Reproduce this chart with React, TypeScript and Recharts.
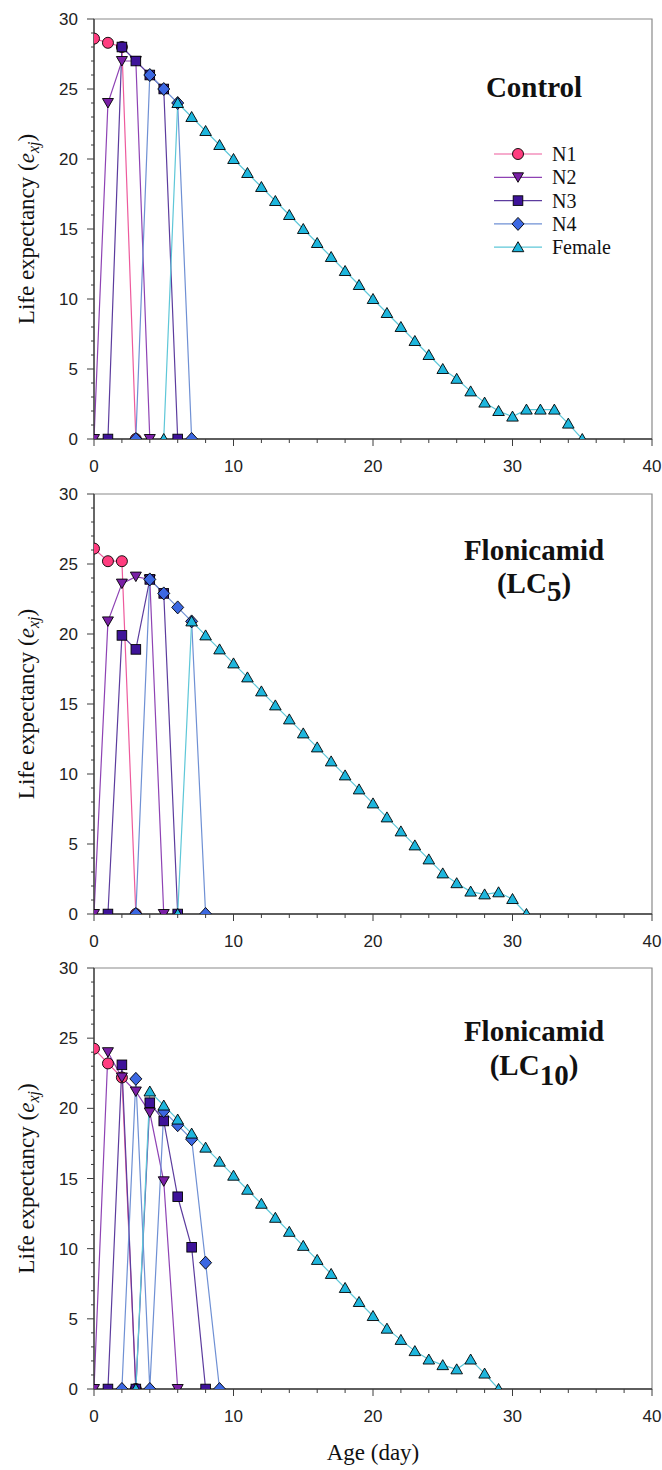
import React from 'react';
import { LineChart, Line, XAxis, YAxis, ReferenceArea, Legend, Label } from 'recharts';

// ---------- tick values ----------
const X_TICKS = [0, 2, 4, 6, 8, 10, 12, 14, 16, 18, 20, 22, 24, 26, 28, 30, 32, 34, 36, 38, 40];
const X_LABELED = [0, 10, 20, 30, 40];
const Y_TICKS = [0, 1, 2, 3, 4, 5, 6, 7, 8, 9, 10, 11, 12, 13, 14, 15, 16, 17, 18, 19, 20, 21, 22, 23, 24, 25, 26, 27, 28, 29, 30];
const Y_LABELED = [0, 5, 10, 15, 20, 25, 30];

// ---------- series names ----------
const SERIES_NAMES = ['N1', 'N2', 'N3', 'N4', 'Female'];

// ---------- Control (values start at given age) ----------
const controlStarts = [0, 0, 1, 3, 5];
const controlN1 = [28.6, 28.3, 28.0, 0];
const controlN2 = [0, 24, 27, 27, 0];
const controlN3 = [0, 28, 27, 26, 25, 0];
const controlN4 = [0, 26, 25, 24, 0];
const controlFemale = [0, 24, 23, 22, 21, 20, 19, 18, 17, 16, 15, 14, 13, 12, 11, 10, 9, 8, 7, 6, 5, 4.3, 3.4, 2.6, 2.0, 1.6, 2.1, 2.1, 2.1, 1.1, 0];

// ---------- Flonicamid LC5 ----------
const lc5Starts = [0, 0, 1, 3, 6];
const lc5N1 = [26.1, 25.2, 25.2, 0];
const lc5N2 = [0, 20.9, 23.6, 24.1, 23.9, 0];
const lc5N3 = [0, 19.9, 18.9, 23.9, 22.9, 0];
const lc5N4 = [0, 23.9, 22.9, 21.9, 20.9, 0];
const lc5Female = [0, 20.9, 19.9, 18.9, 17.9, 16.9, 15.9, 14.9, 13.9, 12.9, 11.9, 10.9, 9.9, 8.9, 7.9, 6.9, 5.9, 4.9, 3.9, 2.9, 2.2, 1.6, 1.4, 1.55, 1.07, 0];

// ---------- Flonicamid LC10 ----------
const lc10Starts = [0, 0, 1, 2, 3];
const lc10N1 = [24.25, 23.2, 22.2, 0];
const lc10N2 = [0, 24.0, 22.2, 21.2, 19.7, 14.8, 0];
const lc10N3 = [0, 23.1, 0, 20.4, 19.1, 13.7, 10.1, 0];
const lc10N4 = [0, 22.1, 0, 19.8, 18.8, 17.8, 9.0, 0];
const lc10Female = [0, 21.2, 20.2, 19.2, 18.2, 17.2, 16.2, 15.2, 14.2, 13.2, 12.2, 11.2, 10.2, 9.2, 8.2, 7.2, 6.2, 5.2, 4.3, 3.5, 2.7, 2.1, 1.7, 1.4, 2.1, 1.1, 0];

// ---------- styles ----------
const STYLE: Record<string, { shape: string; fill: string; line: string }> = {
  N1: { shape: 'circle', fill: '#FF3D7F', line: '#EE5A9C' },
  N2: { shape: 'triDown', fill: '#7A1FA6', line: '#8E42B4' },
  N3: { shape: 'square', fill: '#3E1399', line: '#5C3C9E' },
  N4: { shape: 'diamond', fill: '#3C68E2', line: '#6F90D4' },
  Female: { shape: 'triUp', fill: '#1EB6DD', line: '#5EC7D8' },
};

const AXIS = '#3c3c3c';
const FRAME = '#8a8a8a';
const SERIF = '"Liberation Serif", "Times New Roman", serif';
const SANS = '"Liberation Sans", Arial, sans-serif';

function Marker({ cx, cy, shape, fill }: { cx: number; cy: number; shape: string; fill: string }) {
  const st = { fill, stroke: '#000', strokeWidth: 0.9 };
  if (cx == null || cy == null || isNaN(cx) || isNaN(cy)) return null;
  switch (shape) {
    case 'circle':
      return <circle cx={cx} cy={cy} r={5.5} {...st} />;
    case 'triDown':
      return <polygon points={`${cx - 5.5},${cy - 4.5} ${cx + 5.5},${cy - 4.5} ${cx},${cy + 5}`} {...st} />;
    case 'square':
      return <rect x={cx - 4.8} y={cy - 4.8} width={9.6} height={9.6} {...st} />;
    case 'diamond':
      return <polygon points={`${cx},${cy - 6.5} ${cx + 6},${cy} ${cx},${cy + 6.5} ${cx - 6},${cy}`} {...st} />;
    default:
      return <polygon points={`${cx - 5.8},${cy + 4.5} ${cx + 5.8},${cy + 4.5} ${cx},${cy - 5.5}`} {...st} />;
  }
}

const toPoints = (values: number[], start: number) => values.map((v, i) => ({ age: start + i, e: v }));

function XTick(props: any) {
  const { x, y, payload } = props;
  const v = payload.value;
  const major = X_LABELED.includes(v);
  return (
    <g>
      <line x1={x} x2={x} y1={y} y2={y + (major ? 7 : 4)} stroke={AXIS} strokeWidth={1} />
      {major ? (
        <text x={x} y={y + 33} textAnchor="middle" fontFamily={SANS} fontSize={17} fill="#222">{v}</text>
      ) : null}
    </g>
  );
}

function YTick(props: any) {
  const { x, y, payload } = props;
  const v = payload.value;
  const major = Y_LABELED.includes(v);
  return (
    <g>
      <line x1={x} x2={x - (major ? 7 : 3)} y1={y} y2={y} stroke={AXIS} strokeWidth={1} />
      {major ? (
        <text x={x - 16} y={y + 6} textAnchor="end" fontFamily={SANS} fontSize={17} fill="#222">{v}</text>
      ) : null}
    </g>
  );
}

function renderLegend() {
  return (
    <svg width={150} height={125}>
      {SERIES_NAMES.map((name, i) => {
        const y = 14 + i * 23.3;
        const s = STYLE[name];
        return (
          <g key={name}>
            <line x1={4} x2={52} y1={y} y2={y} stroke={s.line} strokeWidth={1.2} />
            <Marker cx={28} cy={y} shape={s.shape} fill={s.fill} />
            <text x={62} y={y + 7} fontFamily={SERIF} fontSize={20} fill="#111">{name}</text>
          </g>
        );
      })}
    </svg>
  );
}

function YTitle(props: any) {
  const vb = props.viewBox || {};
  const cy = vb.y + vb.height / 2;
  const x = 34;
  return (
    <text transform={`rotate(-90 ${x} ${cy})`} x={x} y={cy} textAnchor="middle" fontFamily={SERIF} fontSize={23} fill="#111">
      Life expectancy (<tspan fontStyle="italic">e</tspan>
      <tspan fontStyle="italic" fontSize={16} dy={5}>xj</tspan>
      <tspan dy={-5}>)</tspan>
    </text>
  );
}

function XTitle(props: any) {
  const vb = props.viewBox || {};
  return (
    <text x={vb.x + vb.width / 2} y={vb.y + 71} textAnchor="middle" fontFamily={SERIF} fontSize={23} fill="#111">
      Age (day)
    </text>
  );
}

type PanelProps = {
  top: number;
  height: number;
  margin: { top: number; right: number; bottom: number; left: number };
  series: number[][];
  starts: number[];
  legend?: boolean;
  xTitle?: boolean;
};

function Panel({ top, height, margin, series, starts, legend, xTitle }: PanelProps) {
  return (
    <div style={{ position: 'absolute', left: 0, top, width: 662, height }}>
      <LineChart width={662} height={height} margin={margin}>
        <ReferenceArea x1={0} x2={40} y1={0} y2={30} fill="none" stroke={FRAME} strokeWidth={1.2} ifOverflow="visible" />
        <XAxis
          type="number"
          dataKey="age"
          domain={[0, 40]}
          ticks={X_TICKS}
          interval={0}
          allowDataOverflow
          height={30}
          tickSize={0}
          tickMargin={0}
          axisLine={{ stroke: AXIS, strokeWidth: 1.3 }}
          tickLine={false}
          tick={<XTick />}
        >
          {xTitle ? <Label content={<XTitle />} /> : null}
        </XAxis>
        <YAxis
          type="number"
          domain={[0, 30]}
          ticks={Y_TICKS}
          interval={0}
          allowDataOverflow
          width={60}
          tickSize={0}
          tickMargin={0}
          axisLine={{ stroke: AXIS, strokeWidth: 1.3 }}
          tickLine={false}
          tick={<YTick />}
        >
          <Label content={<YTitle />} />
        </YAxis>
        {series.map((vals, i) => {
          const name = SERIES_NAMES[i];
          const s = STYLE[name];
          return (
            <Line
              key={name}
              name={name}
              data={toPoints(vals, starts[i])}
              dataKey="e"
              type="linear"
              stroke={s.line}
              strokeWidth={1.2}
              isAnimationActive={false}
              activeDot={false}
              dot={(p: any) => <Marker key={`${name}-${p.index}`} cx={p.cx} cy={p.cy} shape={s.shape} fill={s.fill} />}
            />
          );
        })}
        {legend ? (
          <Legend
            layout="horizontal"
            verticalAlign="middle"
            align="center"
            width={150}
            height={125}
            wrapperStyle={{ left: 490, top: 140 }}
            content={renderLegend}
          />
        ) : null}
      </LineChart>
    </div>
  );
}

export default function App() {
  return (
    <div style={{ position: 'absolute', left: 0, top: 0, width: 662, height: 1470, background: '#fff' }}>
      <Panel
        top={0}
        height={480}
        margin={{ top: 19, right: 10, bottom: 11, left: 34 }}
        series={[controlN1, controlN2, controlN3, controlN4, controlFemale]}
        starts={controlStarts}
        legend
      />
      <Panel
        top={480}
        height={480}
        margin={{ top: 14, right: 10, bottom: 16, left: 34 }}
        series={[lc5N1, lc5N2, lc5N3, lc5N4, lc5Female]}
        starts={lc5Starts}
      />
      <Panel
        top={960}
        height={510}
        margin={{ top: 8, right: 10, bottom: 51, left: 34 }}
        series={[lc10N1, lc10N2, lc10N3, lc10N4, lc10Female]}
        starts={lc10Starts}
        xTitle
      />
      <svg width={662} height={1470} style={{ position: 'absolute', left: 0, top: 0, pointerEvents: 'none' }}>
        <g fontFamily={SERIF} fontWeight="bold" fontSize={29} fill="#111" textAnchor="middle">
          <text x={534} y={97}>Control</text>
          <text x={534} y={560}>Flonicamid</text>
          <text x={534} y={593}>
            (LC<tspan dy={8}>5</tspan>
            <tspan dy={-8}>)</tspan>
          </text>
          <text x={534} y={1041}>Flonicamid</text>
          <text x={534} y={1075}>
            (LC<tspan dy={10}>10</tspan>
            <tspan dy={-10}>)</tspan>
          </text>
        </g>
      </svg>
    </div>
  );
}
